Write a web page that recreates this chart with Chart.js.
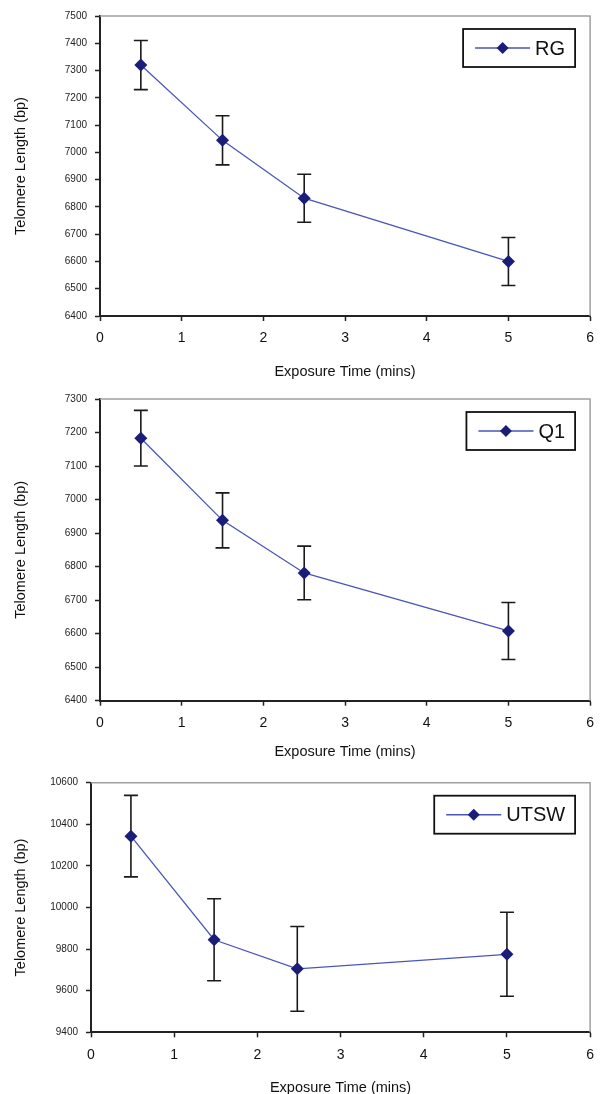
<!DOCTYPE html>
<html>
<head>
<meta charset="utf-8">
<title>Telomere length vs exposure time</title>
<script src="https://cdn.jsdelivr.net/npm/chart.js@4.4.0/dist/chart.umd.min.js"></script>
<style>
html, body { margin: 0; padding: 0; background: #fff; width: 603px; height: 1094px; overflow: hidden; }
.panel { position: absolute; left: 0; width: 603px; }
.panel canvas { display: block; }
</style>
</head>
<body>
<div class="panel" style="top:0px"><canvas id="rgChart" width="603" height="390"></canvas></div>
<div class="panel" style="top:385px"><canvas id="q1Chart" width="603" height="380"></canvas></div>
<div class="panel" style="top:760px"><canvas id="utswChart" width="603" height="344"></canvas></div>
<script>
// Values
const xTicks = [0, 1, 2, 3, 4, 5, 6];

const rgMins = [0.5, 1.5, 2.5, 5];
const rgLength = [7320, 7044, 6832, 6600];
const rgError = [90, 90, 88, 88];
const rgAxis = [6400, 7500, 100];   // min, max, step

const q1Mins = [0.5, 1.5, 2.5, 5];
const q1Length = [7183, 6938, 6781, 6608];
const q1Error = [83, 82, 80, 85];
const q1Axis = [6400, 7300, 100];

const utswMins = [0.48, 1.48, 2.48, 5];
const utswLength = [10343, 9845, 9705, 9775];
const utswError = [196, 197, 204, 202];
const utswAxis = [9400, 10600, 200];

const FONT = "'Liberation Sans', Arial, sans-serif";
const LINE_COLOR = '#4a55b8';
const MARKER_COLOR = '#1b1e78';

// Vertical error bars with caps, drawn under the line/markers
const errorBars = {
    id: 'errorBars',
    beforeDatasetsDraw(chart, args, opts) {
        const { ctx, scales: { x, y } } = chart;
        const pts = chart.data.datasets[0].data;
        ctx.save();
        ctx.strokeStyle = '#1a1a1a';
        ctx.lineWidth = 1.6;
        pts.forEach((p, i) => {
            const px = x.getPixelForValue(p.x);
            const top = y.getPixelForValue(p.y + opts.errors[i]);
            const bot = y.getPixelForValue(p.y - opts.errors[i]);
            ctx.beginPath();
            ctx.moveTo(px, top); ctx.lineTo(px, bot);
            ctx.moveTo(px - 7, top); ctx.lineTo(px + 7, top);
            ctx.moveTo(px - 7, bot); ctx.lineTo(px + 7, bot);
            ctx.stroke();
        });
        ctx.restore();
    }
};

// Gray top and right frame lines
const plotFrame = {
    id: 'plotFrame',
    beforeDatasetsDraw(chart) {
        const { ctx, chartArea: a } = chart;
        ctx.save();
        ctx.strokeStyle = '#a0a0a0';
        ctx.lineWidth = 1.5;
        ctx.beginPath();
        ctx.moveTo(a.left, a.top);
        ctx.lineTo(a.right, a.top);
        ctx.lineTo(a.right, a.bottom);
        ctx.stroke();
        ctx.restore();
    }
};

// Boxed legend in the top-right corner of the plot
const boxLegend = {
    id: 'boxLegend',
    afterDraw(chart) {
        const { ctx, chartArea: a } = chart;
        const label = chart.data.datasets[0].label;
        ctx.save();
        ctx.font = '20px ' + FONT;
        const textW = ctx.measureText(label).width;
        const w = 12 + 55 + 5 + textW + 10;
        const h = 38;
        const right = a.right - 15;
        const left = right - w;
        const top = a.top + 13;
        const midY = top + h / 2;
        ctx.strokeStyle = '#111';
        ctx.lineWidth = 1.8;
        ctx.strokeRect(left, top, w, h);
        ctx.strokeStyle = LINE_COLOR;
        ctx.lineWidth = 1.5;
        ctx.beginPath();
        ctx.moveTo(left + 12, midY);
        ctx.lineTo(left + 67, midY);
        ctx.stroke();
        const cx = left + 39.5;
        ctx.fillStyle = MARKER_COLOR;
        ctx.beginPath();
        ctx.moveTo(cx, midY - 6); ctx.lineTo(cx + 6, midY);
        ctx.lineTo(cx, midY + 6); ctx.lineTo(cx - 6, midY);
        ctx.closePath();
        ctx.fill();
        ctx.fillStyle = '#111';
        ctx.textBaseline = 'middle';
        ctx.fillText(label, left + 72, midY + 1);
        ctx.restore();
    }
};

function createTelomereChart(canvasId, label, mins, lengths, errors, axis, layout) {
    const ctx = document.getElementById(canvasId);
    const points = mins.map((m, i) => ({ x: m, y: lengths[i] }));

    return new Chart(ctx, {
        type: 'scatter',
        data: {
            datasets: [{
                label: label,
                data: points,
                showLine: true,
                borderColor: LINE_COLOR,
                borderWidth: 1.3,
                pointStyle: 'rectRot',
                pointRadius: 6.5,
                pointBackgroundColor: MARKER_COLOR,
                pointBorderColor: MARKER_COLOR,
                pointBorderWidth: 0
            }]
        },
        plugins: [plotFrame, errorBars, boxLegend],
        options: {
            responsive: false,
            devicePixelRatio: 1,
            animation: false,
            events: [],
            layout: { padding: { top: layout.top, right: 5, left: 0, bottom: 0 } },
            scales: {
                x: {
                    type: 'linear',
                    min: xTicks[0],
                    max: xTicks[xTicks.length - 1],
                    afterBuildTicks: s => { s.ticks = xTicks.map(v => ({ value: v })); },
                    afterFit: s => { s.height = layout.xHeight; },
                    grid: { drawOnChartArea: false, drawTicks: true, tickLength: 5, tickColor: '#222', tickWidth: 1.5 },
                    border: { color: '#222', width: 2 },
                    ticks: { color: '#111', font: { family: FONT, size: 14 }, padding: 9, maxRotation: 0,
                        callback: v => String(v) },
                    title: {
                        display: true,
                        text: 'Exposure Time (mins)',
                        color: '#111',
                        font: { family: FONT, size: 14.5 },
                        padding: { top: 0, bottom: layout.titlePad }
                    }
                },
                y: {
                    type: 'linear',
                    min: axis[0],
                    max: axis[1],
                    afterFit: s => { s.width = layout.yWidth; },
                    grid: { drawOnChartArea: false, drawTicks: true, tickLength: 5, tickColor: '#222', tickWidth: 1.5 },
                    border: { color: '#222', width: 2 },
                    ticks: { stepSize: axis[2], autoSkip: false, color: '#222', font: { family: FONT, size: 10 }, padding: 8,
                        callback: v => String(v) },
                    title: {
                        display: true,
                        text: 'Telomere Length (bp)',
                        color: '#111',
                        font: { family: FONT, size: 14.5 },
                        padding: { top: 12.3, bottom: 0 }
                    }
                }
            },
            plugins: {
                legend: { display: false },
                tooltip: { enabled: false },
                errorBars: { errors: errors }
            }
        }
    });
}

createTelomereChart('rgChart', 'RG', rgMins, rgLength, rgError, rgAxis,
    { top: 16, xHeight: 74, titlePad: 9.6, yWidth: 100 });
createTelomereChart('q1Chart', 'Q1', q1Mins, q1Length, q1Error, q1Axis,
    { top: 11.7, xHeight: 64.3, titlePad: 4.6, yWidth: 100 });
createTelomereChart('utswChart', 'UTSW', utswMins, utswLength, utswError, utswAxis,
    { top: 22.7, xHeight: 71.7, titlePad: 7.3, yWidth: 91 });
</script>
</body>
</html>
